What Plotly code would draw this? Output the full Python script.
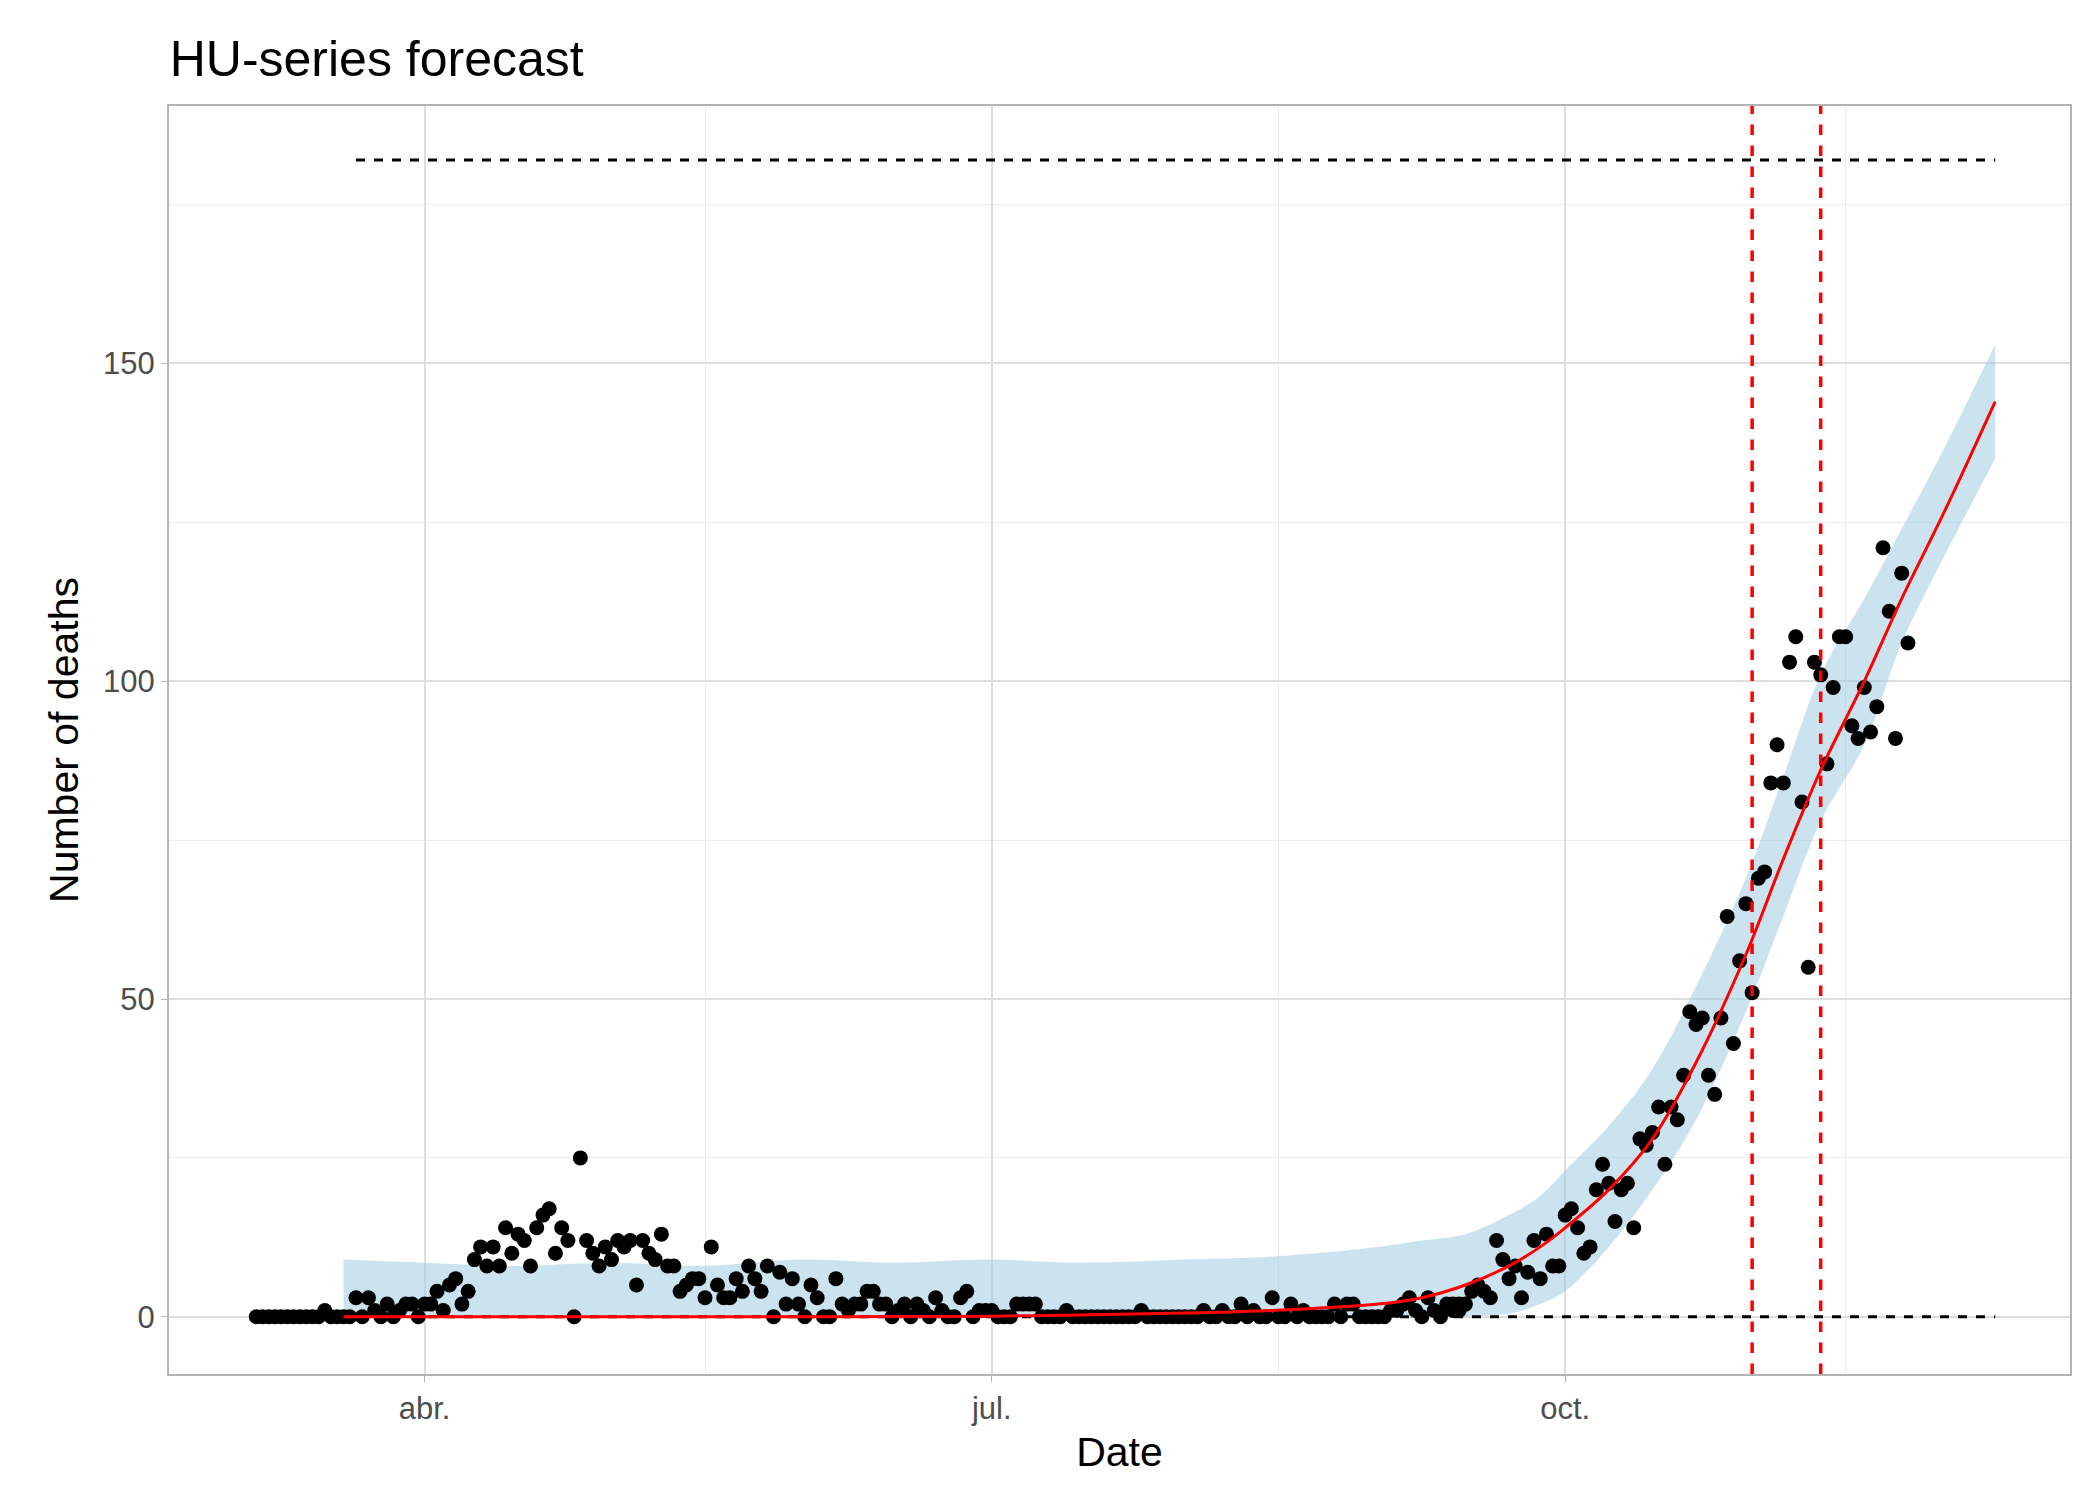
import pandas as pd
import plotly.graph_objects as go

# observed daily deaths, early part starts 2020-03-05
early_start = "2020-03-05"
early_deaths = [0, 0, 0, 0, 0, 0, 0, 0, 0, 0, 0, 1, 0, 0, 0, 0,
                3, 0, 3, 1, 0, 2, 0, 1, 2, 2, 0, 2, 2, 4, 1, 5, 6, 2, 4, 9, 11, 8, 11, 8,
                14, 10, 13, 12, 8, 14, 16, 17, 10, 14, 12, 0, 25, 12, 10, 8, 11, 9,
                12, 11, 12, 5, 12, 10, 9, 13, 8, 8, 4, 5, 6, 6, 3, 11, 5, 3, 3, 6,
                4, 8, 6, 4, 8, 0, 7, 2, 6, 2, 0, 5, 3, 0, 0, 6, 2, 1, 2, 2, 4, 4,
                2, 2, 0, 1, 2, 0, 2, 1, 0, 3, 1, 0, 0, 3, 4, 0, 1, 1, 1, 0, 0, 0,
                2, 2, 2, 2, 0, 0, 0, 0, 1, 0, 0, 0, 0, 0, 0, 0, 0, 0, 0, 0,
                1, 0, 0, 0, 0, 0, 0, 0, 0, 0, 1, 0, 0, 1, 0, 0, 2, 0, 1, 0,
                0, 3, 0, 0, 2, 0, 1, 0, 0, 0, 0, 2, 0, 2, 2, 0, 0, 0, 0, 0,
                1, 1, 2, 3, 1, 0, 3, 1, 0, 2, 1, 2]
# late part ends 2020-11-25
late_end = "2020-11-25"
late_deaths = [2, 1, 2, 4, 5, 4, 3,
               12, 9, 6, 8, 3, 7, 12, 6, 13, 8, 8, 16, 17, 14, 10, 11, 20, 24,
               21, 15, 20, 21, 14, 28, 27, 29, 33, 24, 33, 31, 38, 48, 46, 47,
               38, 35, 47, 63, 43, 56, 65, 51, 69, 70, 84, 90, 84, 103, 107, 81,
               55, 103, 101, 87, 99, 107, 107, 93, 91, 99, 92, 96, 121, 111, 91,
               117, 106]

# fitted curve and prediction band (knots)
fit_dates = ["2020-03-19", "2020-04-01", "2020-04-15", "2020-05-01", "2020-05-15",
             "2020-06-01", "2020-06-15", "2020-07-01", "2020-07-15", "2020-08-01",
             "2020-08-15", "2020-09-01", "2020-09-08", "2020-09-15", "2020-09-22",
             "2020-09-27", "2020-10-01", "2020-10-08", "2020-10-15", "2020-10-22",
             "2020-10-30", "2020-11-05", "2020-11-11", "2020-11-18", "2020-11-24",
             "2020-12-01", "2020-12-09"]
fit_mid = [0, 0, 0, 0, 0, 0, 0.05, 0.1, 0.3, 0.6, 1, 2, 3, 5, 8, 11, 14, 20,
           28, 40, 57, 72, 86, 100, 113, 127, 144]
fit_up = [9, 8.5, 8, 8.5, 8, 9, 8.5, 9, 8.5, 9, 9.5, 11, 12, 13, 16, 19, 23,
          30, 39, 52, 69, 85, 101, 113, 124, 137, 153]
fit_lo = [0, 0, 0, 0, 0, 0, 0, 0, 0, 0, 0, 0, 0, 0, 0.5, 2, 4, 11, 20, 31, 48,
          63, 78, 90, 106, 120, 135]

ceiling_val = 182
ref_lines = ["2020-10-31", "2020-11-11"]

early = pd.DataFrame({"date": pd.date_range(early_start, periods=len(early_deaths)),
                      "deaths": early_deaths})
late = pd.DataFrame({"date": pd.date_range(end=late_end, periods=len(late_deaths)),
                     "deaths": late_deaths})
obs = pd.concat([early, late])

fig = go.Figure()
fig.add_trace(go.Scatter(x=fit_dates, y=fit_lo, mode="lines", line=dict(width=0),
                         line_shape="spline", showlegend=False))
fig.add_trace(go.Scatter(x=fit_dates, y=fit_up, mode="lines", line=dict(width=0),
                         line_shape="spline", fill="tonexty",
                         fillcolor="rgba(160,203,226,0.55)", showlegend=False))
for yv in [0, ceiling_val]:
    fig.add_trace(go.Scatter(x=["2020-03-21", fit_dates[-1]], y=[yv, yv], mode="lines",
                             line=dict(color="black", width=3, dash="dash"),
                             showlegend=False))
fig.add_trace(go.Scatter(x=obs["date"], y=obs["deaths"], mode="markers",
                         marker=dict(color="black", size=15), showlegend=False))
fig.add_trace(go.Scatter(x=fit_dates, y=fit_mid, mode="lines", line_shape="spline",
                         line=dict(color="red", width=3), showlegend=False))
for d in ref_lines:
    fig.add_shape(type="line", x0=d, x1=d, y0=0, y1=1, yref="paper",
                  line=dict(color="red", width=3.5, dash="dash"))

grid = "#dedede"
fig.update_layout(
    width=2100, height=1500, template="plotly_white",
    plot_bgcolor="white", paper_bgcolor="white",
    font=dict(family="Liberation Sans, Arial, sans-serif", color="black"),
    title=dict(text="HU-series forecast", x=0.077, xanchor="left", y=0.978,
               font=dict(size=50)),
    margin=dict(l=161, r=38, t=98, b=134),
    xaxis=dict(range=["2020-02-20", "2020-12-21"],
               tickvals=["2020-04-01", "2020-07-01", "2020-10-01"],
               ticktext=["abr.", "jul.", "oct."],
               tickfont=dict(size=31, color="#4d4d4d"),
               title=dict(text="Date", font=dict(size=41), standoff=12),
               showgrid=True, gridcolor=grid, gridwidth=1.5,
               minor=dict(tickvals=["2020-05-16", "2020-08-16", "2020-11-15"],
                          showgrid=True, gridcolor="#ececec", gridwidth=1),
               showline=True, linecolor="#b3b3b3", linewidth=2, mirror=True,
               zeroline=False, ticks="outside", ticklen=6, tickcolor="#b3b3b3"),
    yaxis=dict(range=[-9, 190.5], tickvals=[0, 50, 100, 150],
               tickfont=dict(size=31, color="#4d4d4d"),
               title=dict(text="Number of deaths", font=dict(size=41), standoff=12),
               showgrid=True, gridcolor=grid, gridwidth=1.5,
               minor=dict(tickvals=[25, 75, 125, 175], showgrid=True,
                          gridcolor="#ececec", gridwidth=1),
               showline=True, linecolor="#b3b3b3", linewidth=2, mirror=True,
               zeroline=False, ticks="outside", ticklen=6, tickcolor="#b3b3b3"),
)

fig.write_html("out.html")
